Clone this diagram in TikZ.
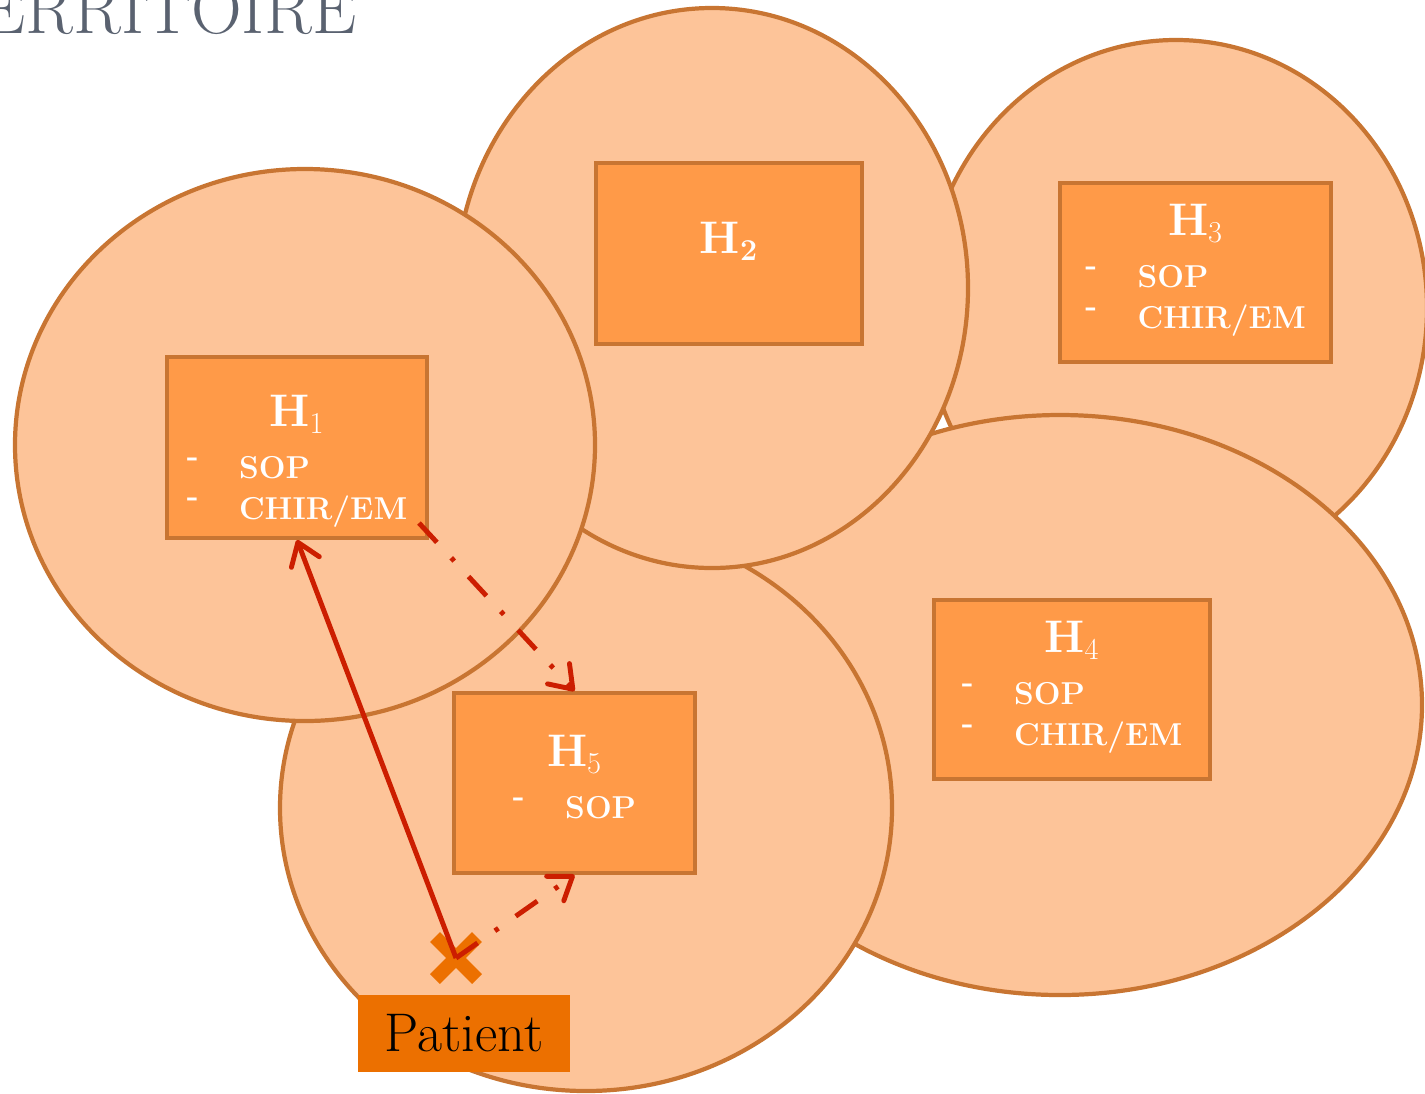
\documentclass[tikz,border=0pt]{standalone}
\usepackage{tikz}
\usetikzlibrary{arrows.meta, positioning}
\definecolor{zonefill}{RGB}{253, 196, 153}
\definecolor{zoneline}{RGB}{200, 117, 50}
\definecolor{hopfill}{RGB}{255, 154, 72}
\definecolor{patorange}{RGB}{236, 112, 0}
\definecolor{fluxred}{RGB}{204, 30, 0}
\definecolor{titregray}{RGB}{90, 98, 112}

\newcommand{\puce}{\raisebox{7pt}{-}}
\newcommand{\titreH}[1]{{\fontsize{26}{30}\selectfont H$_{#1}$}}
% optional first argument: height of the first row (pushes the text down)
\newcommand{\hosp}[3][0pt]{%
  \begin{tabular}{@{}l@{\hspace{23pt}}l@{}}
    \multicolumn{2}{c}{\rule{0pt}{#1}\titreH{#2}}\\[6.3pt]
    #3
  \end{tabular}}

\begin{document}
\begin{tikzpicture}[x=0.02cm, y=-0.02cm,
  zone/.style={draw=zoneline, fill=zonefill, line width=2.4pt},
  hopital/.style={draw=zoneline, fill=hopfill, line width=2.3pt, inner sep=0pt,
    text=white, font=\bfseries\fontsize{18}{23.2}\selectfont},
  flux/.style={fluxred, line width=2.8pt, -{Straight Barb[length=12pt, width=17pt, round]}},
  fluxpoint/.style={flux, dash pattern=on 15pt off 12pt on 2.5pt off 12pt}]
  \useasboundingbox (0, 0) rectangle (1425, 1093);

  % Title (cut at the left)
  \node[anchor=base east, inner sep=0pt, titregray, font=\fontsize{40}{44}\selectfont]
    (titre) at (357, 33) {ERRITOIRE};

  % Zones around the hospitals
  \draw[zone] (1176, 308) ellipse [x radius=251, y radius=268];
  \draw[zone] (1060, 705) ellipse [x radius=362, y radius=290];
  \draw[zone] (586, 808) ellipse [x radius=306, y radius=283];
  \draw[zone] (712, 288) ellipse [x radius=256, y radius=280];
  \draw[zone] (305, 445) ellipse [x radius=290, y radius=276];

  % Hospitals
  \node[hopital, minimum width=5.2cm, minimum height=3.62cm] (h1) at (297, 447.5)
    {\hosp[35.8pt]{1}{\puce & SOP\\ \puce & CHIR/EM}};
  \node[hopital, minimum width=5.32cm, minimum height=3.62cm] (h2) at (729, 253.5)
    {\titreH{\mathbf{2}}\rule[-17.3pt]{0pt}{17.3pt}};
  \node[hopital, minimum width=5.42cm, minimum height=3.58cm] (h3) at (1195.5, 272.5)
    {\hosp{3}{\puce & SOP\\ \puce & CHIR/EM}};
  \node[hopital, minimum width=5.52cm, minimum height=3.58cm] (h4) at (1072, 689.5)
    {\hosp{4}{\puce & SOP\\ \puce & CHIR/EM}};
  \node[hopital, minimum width=4.82cm, minimum height=3.6cm] (h5) at (574.5, 783)
    {\hosp{5}{\puce & SOP}};

  % Patient
  \coordinate (pat) at (456, 958);
  \draw[patorange, line width=8pt] (pat) +(-21, -21) -- +(21, 21)
    (pat) +(-21, 21) -- +(21, -21);
  \node[fill=patorange, minimum width=4.24cm, minimum height=1.54cm, inner sep=0pt,
    font=\fontsize{31}{34}\selectfont] (patient) at (464, 1033.5) {Patient};

  % Flows
  \draw[flux] (pat) -- (h1.south);
  \draw[fluxpoint] (pat) -- (h5.south);
  \draw[fluxpoint] ([shift={(-10, -17)}]h1.south east) -- (h5.north);
\end{tikzpicture}
\end{document}
